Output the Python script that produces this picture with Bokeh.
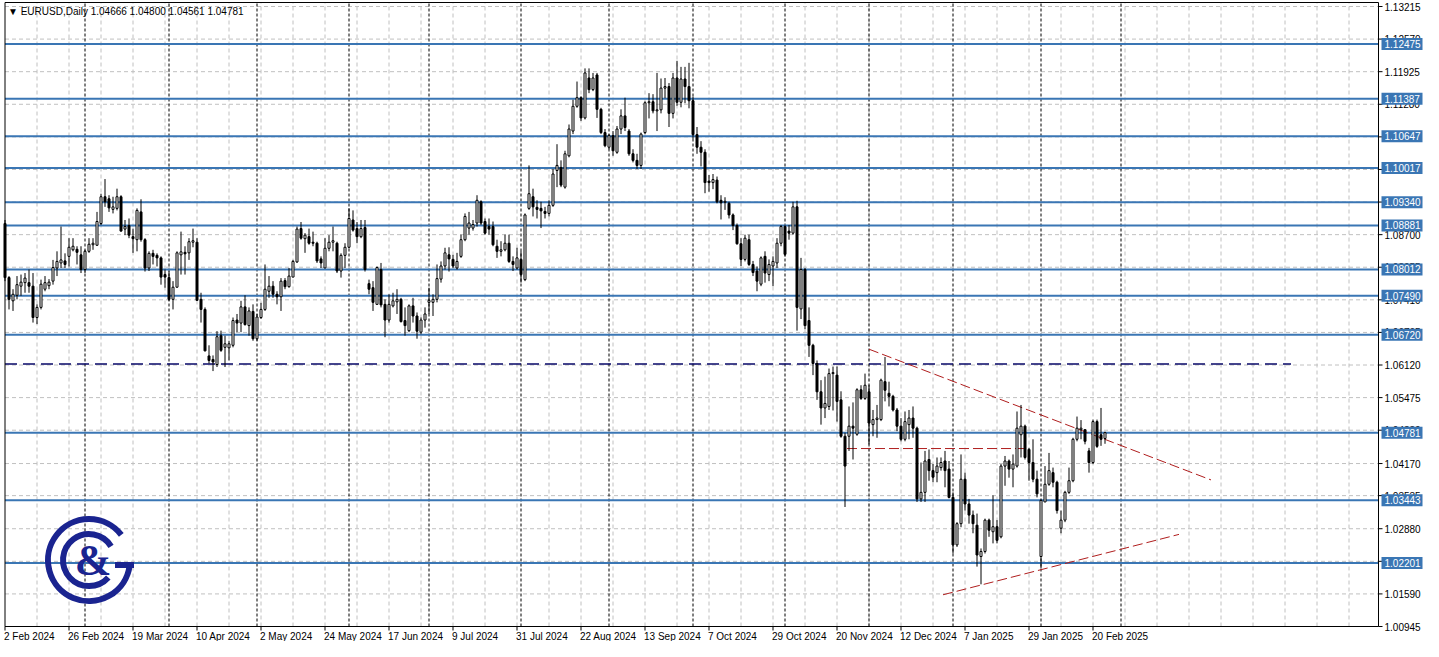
import numpy as np
from bokeh.plotting import figure
from bokeh.models import Range1d
from bokeh.embed import file_html
from bokeh.resources import INLINE
from bokeh.core.properties import value

# ---------------- data (EURUSD daily) ----------------
opens = [1.0892,1.0785,1.0739,1.0750,1.0768,1.0775,1.0775,1.0768,1.0706,1.0726,
1.0762,1.0769,1.0778,1.0804,1.0814,1.0818,1.0827,1.0840,1.0841,1.0830,
1.0801,1.0837,1.0850,1.0849,1.0892,1.0945,1.0941,1.0920,1.0922,1.0945,
1.0881,1.0888,1.0866,1.0860,1.0915,1.0860,1.0804,1.0833,1.0829,1.0824,
1.0791,1.0785,1.0742,1.0766,1.0830,1.0835,1.0834,1.0855,1.0855,1.0742,
1.0722,1.0630,1.0623,1.0613,1.0670,1.0647,1.0646,1.0651,1.0701,1.0695,
1.0727,1.0690,1.0718,1.0664,1.0706,1.0722,1.0758,1.0768,1.0752,1.0747,
1.0779,1.0767,1.0786,1.0816,1.0882,1.0862,1.0866,1.0855,1.0853,1.0822,
1.0804,1.0843,1.0855,1.0853,1.0798,1.0829,1.0845,1.0899,1.0882,1.0866,
1.0884,1.0773,1.0765,1.0732,1.0801,1.0732,1.0701,1.0729,1.0737,1.0742,
1.0700,1.0680,1.0729,1.0709,1.0677,1.0701,1.0736,1.0736,1.0742,1.0782,
1.0808,1.0830,1.0821,1.0804,1.0827,1.0860,1.0883,1.0883,1.0893,1.0935,
1.0896,1.0886,1.0886,1.0847,1.0837,1.0840,1.0853,1.0817,1.0804,1.0821,
1.0781,1.0922,1.0945,1.0924,1.0922,1.0916,1.0912,1.0928,1.0997,1.1003,
1.0964,1.1026,1.1075,1.1124,1.1141,1.1101,1.1180,1.1157,1.1186,1.1118,
1.1072,1.1043,1.1066,1.1033,1.1079,1.1105,1.1075,1.1030,1.1017,1.1007,
1.1072,1.1131,1.1133,1.1115,1.1117,1.1160,1.1163,1.1110,1.1180,1.1132,
1.1178,1.1163,1.1135,1.1068,1.1043,1.1033,1.0976,1.0973,1.0978,1.0938,
1.0934,1.0932,1.0909,1.0888,1.0852,1.0821,1.0860,1.0811,1.0798,1.0772,
1.0827,1.0791,1.0808,1.0814,1.0853,1.0886,1.0877,1.0873,1.0925,1.0723,
1.0801,1.0700,1.0651,1.0615,1.0559,1.0527,1.0530,1.0595,1.0592,1.0543,
1.0471,1.0471,1.0491,1.0475,1.0563,1.0546,1.0559,1.0494,1.0504,1.0504,
1.0579,1.0556,1.0550,1.0523,1.0491,1.0465,1.0494,1.0507,1.0487,1.0347,
1.0360,1.0425,1.0403,1.0399,1.0409,1.0422,1.0406,1.0350,1.0256,1.0298,
1.0386,1.0337,1.0315,1.0295,1.0233,1.0243,1.0305,1.0282,1.0292,1.0272,
1.0412,1.0422,1.0406,1.0412,1.0474,1.0491,1.0445,1.0419,1.0386,1.0233,
1.0341,1.0376,1.0399,1.0380,1.0289,1.0305,1.0360,1.0383,1.0465,1.0484,
1.0484,1.0442,1.0419,1.0500,1.0474,1.04666]

highs = [1.0899,1.0788,1.0762,1.0788,1.0791,1.0794,1.0801,1.0794,1.0732,1.0781,
1.0788,1.0782,1.0820,1.0837,1.0886,1.0833,1.0863,1.0863,1.0847,1.0847,
1.0840,1.0863,1.0863,1.0915,1.0951,1.0980,1.0948,1.0945,1.0961,1.0948,
1.0899,1.0902,1.0882,1.0922,1.0940,1.0863,1.0837,1.0840,1.0833,1.0827,
1.0801,1.0798,1.0778,1.0837,1.0876,1.0847,1.0863,1.0882,1.0863,1.0755,
1.0726,1.0651,1.0631,1.0679,1.0680,1.0670,1.0660,1.0706,1.0713,1.0739,
1.0750,1.0726,1.0732,1.0713,1.0735,1.0811,1.0788,1.0778,1.0758,1.0784,
1.0784,1.0804,1.0820,1.0886,1.0895,1.0873,1.0882,1.0876,1.0856,1.0827,
1.0863,1.0869,1.0886,1.0856,1.0833,1.0853,1.0922,1.0918,1.0895,1.0899,
1.0899,1.0781,1.0778,1.0807,1.0814,1.0742,1.0752,1.0755,1.0762,1.0745,
1.0726,1.0732,1.0745,1.0716,1.0706,1.0726,1.0765,1.0752,1.0811,1.0817,
1.0844,1.0845,1.0830,1.0834,1.0870,1.0912,1.0915,1.0899,1.0948,1.0938,
1.0902,1.0902,1.0896,1.0860,1.0857,1.0870,1.0870,1.0827,1.0844,1.0837,
1.0912,1.1007,1.0961,1.0938,1.0935,1.0925,1.0938,1.1000,1.1049,1.1017,
1.1036,1.1088,1.1137,1.1173,1.1144,1.1199,1.1199,1.1190,1.1190,1.1121,
1.1079,1.1069,1.1075,1.1085,1.1118,1.1141,1.1079,1.1039,1.1030,1.1072,
1.1134,1.1150,1.1148,1.1190,1.1179,1.1180,1.1170,1.1190,1.1214,1.1202,
1.1202,1.1210,1.1143,1.1083,1.1055,1.1039,1.0988,1.0990,1.0985,1.0948,
1.0944,1.0935,1.0912,1.0892,1.0863,1.0870,1.0870,1.0818,1.0807,1.0827,
1.0837,1.0821,1.0827,1.0863,1.0889,1.0889,1.0889,1.0935,1.0937,1.0824,
1.0804,1.0726,1.0654,1.0621,1.0582,1.0589,1.0605,1.0609,1.0609,1.0560,
1.0478,1.0530,1.0538,1.0566,1.0572,1.0595,1.0572,1.0523,1.0533,1.0585,
1.0628,1.0579,1.0553,1.0527,1.0507,1.0520,1.0523,1.0530,1.0490,1.0419,
1.0442,1.0445,1.0416,1.0429,1.0429,1.0442,1.0422,1.0360,1.0301,1.0435,
1.0399,1.0347,1.0324,1.0318,1.0249,1.0308,1.0308,1.0354,1.0305,1.0416,
1.0432,1.0425,1.0435,1.0520,1.0533,1.0494,1.0448,1.0465,1.0403,1.0347,
1.0412,1.0438,1.0409,1.0383,1.0324,1.0363,1.0409,1.0468,1.0510,1.0503,
1.0484,1.0448,1.0504,1.0504,1.0527,1.04800]

lows = [1.0778,1.0722,1.0719,1.0742,1.0749,1.0755,1.0755,1.0696,1.0693,1.0722,
1.0758,1.0762,1.0771,1.0788,1.0804,1.0804,1.0807,1.0837,1.0811,1.0794,
1.0794,1.0834,1.0840,1.0848,1.0889,1.0925,1.0915,1.0912,1.0918,1.0876,
1.0869,1.0863,1.0834,1.0837,1.0856,1.0797,1.0798,1.0811,1.0807,1.0771,
1.0765,1.0739,1.0722,1.0765,1.0791,1.0791,1.0820,1.0845,1.0739,1.0696,
1.0639,1.0615,1.0600,1.0608,1.0638,1.0608,1.0621,1.0647,1.0677,1.0677,
1.0690,1.0670,1.0660,1.0660,1.0703,1.0719,1.0745,1.0745,1.0732,1.0719,
1.0762,1.0765,1.0786,1.0814,1.0860,1.0834,1.0850,1.0847,1.0814,1.0804,
1.0804,1.0837,1.0837,1.0794,1.0785,1.0804,1.0843,1.0876,1.0853,1.0863,
1.0797,1.0752,1.0719,1.0732,1.0726,1.0667,1.0696,1.0726,1.0713,1.0696,
1.0670,1.0677,1.0696,1.0664,1.0673,1.0686,1.0713,1.0709,1.0736,1.0775,
1.0801,1.0797,1.0804,1.0801,1.0824,1.0857,1.0870,1.0878,1.0886,1.0889,
1.0870,1.0870,1.0847,1.0824,1.0827,1.0837,1.0814,1.0798,1.0801,1.0775,
1.0778,1.0919,1.0906,1.0902,1.0883,1.0902,1.0906,1.0925,1.0964,1.0964,
1.0961,1.1023,1.1069,1.1121,1.1095,1.1098,1.1150,1.1154,1.1101,1.1069,
1.1043,1.1039,1.1026,1.1030,1.1069,1.1075,1.1026,1.1013,1.1000,1.1000,
1.1069,1.1100,1.1110,1.1075,1.1110,1.1140,1.1083,1.1100,1.1125,1.1122,
1.1130,1.1120,1.1060,1.1030,1.1005,1.0952,1.0955,1.0960,1.0932,1.0900,
1.0919,1.0902,1.0879,1.0850,1.0808,1.0817,1.0808,1.0788,1.0758,1.0768,
1.0775,1.0778,1.0768,1.0804,1.0847,1.0827,1.0860,1.0870,1.0680,1.0703,
1.0683,1.0628,1.0592,1.0543,1.0494,1.0507,1.0523,1.0522,1.0500,1.0468,
1.0331,1.0442,1.0425,1.0472,1.0543,1.0543,1.0455,1.0471,1.0468,1.0501,
1.0540,1.0530,1.0520,1.0481,1.0461,1.0461,1.0465,1.0468,1.0341,1.0341,
1.0341,1.0383,1.0380,1.0380,1.0403,1.0370,1.0348,1.0239,1.0252,1.0291,
1.0324,1.0298,1.0279,1.0213,1.0178,1.0239,1.0272,1.0259,1.0259,1.0269,
1.0373,1.0389,1.0370,1.0409,1.0429,1.0425,1.0383,1.0380,1.0350,1.0210,
1.0341,1.0373,1.0370,1.0318,1.0279,1.0301,1.0357,1.0380,1.0461,1.0465,
1.0455,1.0399,1.0416,1.0448,1.0452,1.04561]

closes = [1.0785,1.0742,1.0752,1.0771,1.0776,1.0784,1.0768,1.0706,1.0726,1.0772,
1.0775,1.0776,1.0805,1.0817,1.0820,1.0811,1.0845,1.0847,1.0835,1.0801,
1.0837,1.0851,1.0853,1.0896,1.0945,1.0935,1.0923,1.0925,1.0945,1.0877,
1.0886,1.0869,1.0862,1.0918,1.0860,1.0804,1.0833,1.0827,1.0824,1.0786,
1.0786,1.0742,1.0766,1.0834,1.0836,1.0832,1.0856,1.0858,1.0740,1.0722,
1.0640,1.0621,1.0618,1.0668,1.0641,1.0654,1.0654,1.0700,1.0695,1.0727,
1.0692,1.0719,1.0664,1.0707,1.0722,1.0762,1.0768,1.0752,1.0747,1.0778,
1.0767,1.0788,1.0817,1.0881,1.0863,1.0869,1.0853,1.0853,1.0818,1.0814,
1.0843,1.0855,1.0858,1.0798,1.0829,1.0845,1.0902,1.0879,1.0866,1.0882,
1.0801,1.0762,1.0736,1.0805,1.0731,1.0701,1.0732,1.0739,1.0742,1.0698,
1.0690,1.0729,1.0709,1.0679,1.0701,1.0713,1.0740,1.0742,1.0783,1.0808,
1.0834,1.0822,1.0808,1.0817,1.0860,1.0906,1.0893,1.0890,1.0938,1.0893,
1.0873,1.0881,1.0850,1.0837,1.0840,1.0853,1.0817,1.0811,1.0824,1.0791,
1.0909,1.0951,1.0925,1.0920,1.0917,1.0912,1.0928,1.0990,1.1007,1.0968,
1.1030,1.1079,1.1124,1.1141,1.1101,1.1190,1.1157,1.1180,1.1118,1.1072,
1.1046,1.1066,1.1036,1.1079,1.1105,1.1082,1.1030,1.1017,1.1007,1.1069,
1.1131,1.1133,1.1115,1.1117,1.1160,1.1163,1.1110,1.1180,1.1132,1.1178,
1.1163,1.1135,1.1068,1.1043,1.1033,1.0973,1.0973,1.0979,1.0935,1.0933,
1.0936,1.0909,1.0888,1.0852,1.0821,1.0863,1.0811,1.0795,1.0778,1.0824,
1.0794,1.0811,1.0817,1.0853,1.0886,1.0831,1.0873,1.0925,1.0726,1.0801,
1.0690,1.0651,1.0615,1.0559,1.0527,1.0536,1.0595,1.0597,1.0540,1.0471,
1.0412,1.0491,1.0487,1.0563,1.0546,1.0572,1.0497,1.0504,1.0507,1.0582,
1.0562,1.0550,1.0523,1.0491,1.0465,1.0500,1.0507,1.0487,1.0347,1.0360,
1.0422,1.0403,1.0390,1.0412,1.0419,1.0403,1.0350,1.0256,1.0298,1.0386,
1.0337,1.0315,1.0298,1.0236,1.0243,1.0305,1.0285,1.0292,1.0265,1.0412,
1.0422,1.0406,1.0416,1.0487,1.0491,1.0429,1.0419,1.0386,1.0357,1.0344,
1.0376,1.0403,1.0380,1.0324,1.0305,1.0360,1.0383,1.0465,1.0487,1.0487,
1.0461,1.0419,1.0500,1.0451,1.0465,1.04781]

date_ticks = [0, 16, 32, 48, 64, 80, 96, 112, 128, 144, 160, 176, 192, 208, 224, 240, 256, 272]
date_labels = ["2 Feb 2024", "26 Feb 2024", "19 Mar 2024", "10 Apr 2024", "2 May 2024",
               "24 May 2024", "17 Jun 2024", "9 Jul 2024", "31 Jul 2024", "22 Aug 2024",
               "13 Sep 2024", "7 Oct 2024", "29 Oct 2024", "20 Nov 2024", "12 Dec 2024",
               "7 Jan 2025", "29 Jan 2025", "20 Feb 2025"]
month_starts = [20, 41, 63, 86, 106, 129, 151, 172, 195, 216, 237, 259, 279]
price_ticks = [1.13215, 1.12570, 1.11925, 1.11280, 1.10635, 1.09990, 1.09345, 1.08700,
               1.08055, 1.07410, 1.06765, 1.06120, 1.05475, 1.04830, 1.04170, 1.03535,
               1.02880, 1.02235, 1.01590, 1.00945]
levels = [1.12475, 1.11387, 1.10647, 1.10017, 1.09340, 1.08881, 1.08012, 1.07490,
          1.06720, 1.04781, 1.03443, 1.02201]

# drawn objects (bar index, price)
navy_x = [0, 321.5];     navy_y = [1.0614, 1.0614]
res_x = [216, 301.5];    res_y = [1.06433, 1.03846]
sup_x = [234.5, 293.5];  sup_y = [1.01573, 1.02768]
mid_x = [210.5, 256];    mid_y = [1.04467, 1.04467]

# ---------------- layout (pixels -> data units) ----------------
W, H = 1423, 641
CH_L, CH_R, CH_T, CH_B = 4, 1378, 2, 626      # chart box on the canvas
PXB = 4.0                                      # pixels per bar
X0 = -0.125                                    # bar value at chart left edge
P_HI, P_LO = price_ticks[0], price_ticks[-1]
Y_HI_PX = 6                                    # pixel row of the top tick
PPU = (CH_B - Y_HI_PX) / (P_HI - P_LO)         # pixels per price unit

def dx(px):
    return px / PXB

def dy(px):
    return px / PPU

XL = X0 + dx(0.5)
XR = X0 + dx(CH_R - CH_L)
YB = P_LO
YT = P_HI + dy(Y_HI_PX - CH_T)

x_range = Range1d(X0 - dx(CH_L), X0 + dx(W - CH_L))
y_range = Range1d(P_LO - dy(H - CH_B), P_HI + dy(Y_HI_PX))

BLUE = "#3A76B4"
NAVY = "#1A2490"
GRID = "#C0C0C0"
FONT = value("Liberation Sans")

p = figure(width=W, height=H, x_range=x_range, y_range=y_range,
           output_backend="svg", toolbar_location=None,
           x_axis_location=None, y_axis_location=None,
           min_border=0, outline_line_color=None,
           background_fill_color="white", border_fill_color="white")
p.grid.visible = False

# grid
vg = [v for v in range(8, 344, 8)]
p.segment(x0=vg, y0=[YB] * len(vg), x1=vg, y1=[YT] * len(vg),
          line_color=GRID, line_dash="4 3", line_width=1)
p.segment(x0=[XL] * len(price_ticks), y0=price_ticks, x1=[XR] * len(price_ticks), y1=price_ticks,
          line_color=GRID, line_dash="4 3", line_width=1)

# month separators
p.segment(x0=month_starts, y0=[YB] * len(month_starts), x1=month_starts, y1=[YT] * len(month_starts),
          line_color="black", line_dash="3 2", line_width=1)

# horizontal levels
p.segment(x0=[XL] * len(levels), y0=levels, x1=[XR] * len(levels), y1=levels,
          line_color=BLUE, line_width=2)

# drawn lines
p.line(navy_x, navy_y, line_color="#080868", line_dash="12 6", line_width=1.4)
for xs, ys in ((res_x, res_y), (sup_x, sup_y), (mid_x, mid_y)):
    p.line(xs, ys, line_color="#B01E1E", line_dash="10 4", line_width=1)

# candles
o = np.array(opens); h = np.array(highs); l = np.array(lows); c = np.array(closes)
idx = np.arange(len(c))
up = c >= o
p.segment(idx, h, idx, l, line_color="black", line_width=1)
p.vbar(x=idx[up], top=c[up], bottom=o[up], width=0.5, fill_color="white",
       line_color="black", line_width=1)
p.vbar(x=idx[~up], top=o[~up], bottom=c[~up], width=0.5, fill_color="black",
       line_color="black", line_width=1)

# chart frame
p.quad(left=[XL], right=[XR], bottom=[YB], top=[YT], fill_color=None,
       line_color="black", line_width=1)

# price axis (right)
n = len(price_ticks)
p.segment(x0=[XR] * n, y0=price_ticks, x1=[XR + dx(4)] * n, y1=price_ticks,
          line_color="black", line_width=1)
p.text(x=[XR + dx(6)] * n, y=price_ticks, text=["%.5f" % v for v in price_ticks],
       text_font=FONT, text_font_size="10px", text_color="black",
       text_align="left", text_baseline="middle")

# level boxes over the axis
m = len(levels)
p.quad(left=[XR + dx(3)] * m, right=[XR + dx(44)] * m,
       bottom=[v - dy(6) for v in levels], top=[v + dy(6) for v in levels],
       fill_color=BLUE, line_color=None)
p.text(x=[XR + dx(6)] * m, y=levels, text=["%.5f" % v for v in levels],
       text_font=FONT, text_font_size="10px", text_color="white",
       text_align="left", text_baseline="middle")

# date axis (bottom)
k = len(date_ticks)
p.segment(x0=date_ticks, y0=[YB] * k, x1=date_ticks, y1=[YB - dy(4)] * k,
          line_color="black", line_width=1)
p.text(x=[t - dx(1) for t in date_ticks], y=[YB - dy(4)] * k, text=date_labels,
       text_font=FONT, text_font_size="10px", text_color="black",
       text_align="left", text_baseline="top")

# title
title_txt = "\u25bc EURUSD,Daily  %.5f %.5f %.5f %.5f" % (opens[-1], highs[-1], lows[-1], closes[-1])
p.text(x=[XL + dx(3)], y=[YT - dy(3)], text=[title_txt], text_font=FONT,
       text_font_size="10px", text_color="black", text_align="left", text_baseline="top")

# logo
logo_x, logo_y = 21.0, 1.02259
p.arc(x=[logo_x], y=[logo_y], radius=41, radius_units="screen",
      start_angle=np.radians(38), end_angle=np.radians(-8), direction="anticlock",
      line_color=NAVY, line_width=6)
p.arc(x=[logo_x], y=[logo_y], radius=26, radius_units="screen",
      start_angle=np.radians(32), end_angle=np.radians(-42), direction="anticlock",
      line_color=NAVY, line_width=6)
p.segment(x0=[logo_x + dx(26)], y0=[logo_y - dy(5)], x1=[logo_x + dx(45)], y1=[logo_y - dy(5)],
          line_color=NAVY, line_width=6)
p.text(x=[logo_x + dx(4)], y=[logo_y], text=["&"], text_font=value("Liberation Sans Narrow"),
       text_font_style="bold", text_font_size="44px", text_color=NAVY,
       text_align="center", text_baseline="middle")

open("out.html", "w").write(file_html(p, INLINE))
